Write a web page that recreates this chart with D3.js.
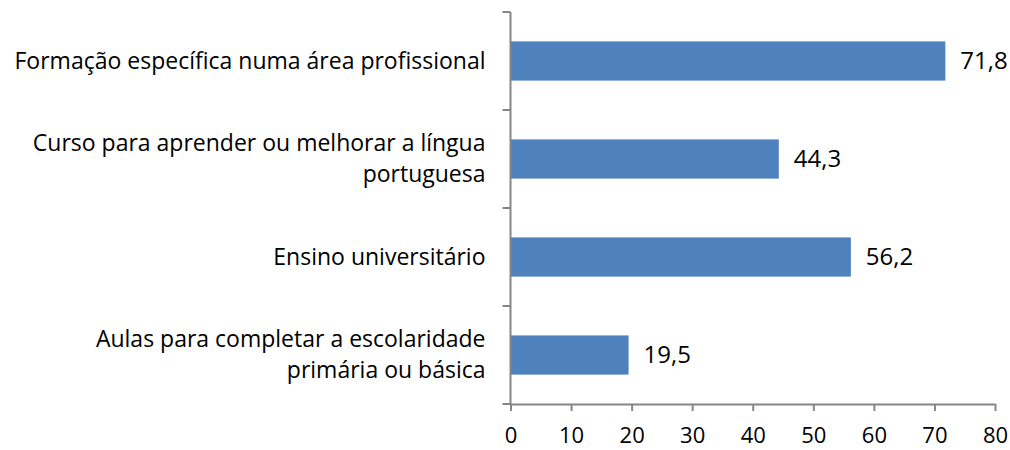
<!DOCTYPE html>
<html>
<head>
<meta charset="utf-8">
<script src="https://cdn.jsdelivr.net/npm/d3@7"></script>
<style>
  html, body { margin: 0; padding: 0; background: #fff; }
  svg { display: block; }
  text { font-family: "Open Sans", "Lato", sans-serif; fill: #000; }
</style>
</head>
<body>
<svg id="chart" width="1010" height="450"></svg>
<script>
// Categories (top to bottom), each split into its drawn lines
const categories = [
  ["Formação específica numa área profissional"],
  ["Curso para aprender ou melhorar a língua", "portuguesa"],
  ["Ensino universitário"],
  ["Aulas para completar a escolaridade", "primária ou básica"]
];
const values = [71.8, 44.3, 56.2, 19.5];
const xTicks = [0, 10, 20, 30, 40, 50, 60, 70, 80];

(function () {
  const svg = d3.select("#chart");
  const plotLeft = 510.5, plotRight = 995, plotTop = 12, plotBottom = 404;
  const axisColor = "#868686";
  const barColor = "#4f81bd";
  const labelSize = 23;
  const valueSize = 24;
  const tickSize = 22;
  const fontFamily = "'Open Sans', Lato, sans-serif";

  const x = d3.scaleLinear().domain([0, 80]).range([plotLeft, plotRight]);
  const y = d3.scaleBand()
    .domain(d3.range(categories.length))
    .range([plotTop, plotBottom])
    .paddingInner(0.6)
    .paddingOuter(0.3);

  // Bars
  svg.append("g").selectAll("rect")
    .data(values)
    .join("rect")
    .attr("x", x(0))
    .attr("y", (d, i) => y(i))
    .attr("width", d => x(d) - x(0))
    .attr("height", y.bandwidth())
    .attr("fill", barColor);

  // Value labels
  svg.append("g").selectAll("text")
    .data(values)
    .join("text")
    .attr("x", d => x(d) + 15)
    .attr("y", (d, i) => y(i) + y.bandwidth() / 2)
    .attr("dy", "0.35em")
    .style("font-size", valueSize + "px")
    .text(d => d.toFixed(1).replace(".", ","));

  // X axis
  const xAxis = svg.append("g")
    .attr("transform", `translate(0,${plotBottom})`)
    .call(d3.axisBottom(x).tickValues(xTicks).tickSize(7).tickSizeOuter(0).tickPadding(16)
      .tickFormat(d => d));
  xAxis.select(".domain").attr("stroke", axisColor).attr("stroke-width", 2);
  xAxis.selectAll(".tick line").attr("stroke", axisColor).attr("stroke-width", 2);
  xAxis.selectAll(".tick text")
    .style("font-size", tickSize + "px")
    .style("font-family", fontFamily)
    .attr("fill", "#000");

  // Y axis line with category boundary ticks
  const yAxisG = svg.append("g");
  yAxisG.append("line")
    .attr("x1", plotLeft).attr("x2", plotLeft)
    .attr("y1", plotTop).attr("y2", plotBottom + 1)
    .attr("stroke", axisColor).attr("stroke-width", 2);
  const boundaries = d3.range(categories.length + 1).map(i => plotTop + i * y.step());
  yAxisG.selectAll("line.tick")
    .data(boundaries)
    .join("line")
    .attr("class", "tick")
    .attr("x1", plotLeft - 8).attr("x2", plotLeft)
    .attr("y1", d => d).attr("y2", d => d)
    .attr("stroke", axisColor).attr("stroke-width", 2);

  // Category labels, right-aligned beside the axis
  const lineHeight = 31;
  const catG = svg.append("g");
  categories.forEach((lines, i) => {
    const cy = y(i) + y.bandwidth() / 2;
    const t = catG.append("text")
      .attr("text-anchor", "end")
      .style("font-size", labelSize + "px");
    lines.forEach((ln, j) => {
      t.append("tspan")
        .attr("x", plotLeft - 25)
        .attr("y", cy + (j - (lines.length - 1) / 2) * lineHeight)
        .attr("dy", "0.33em")
        .text(ln);
    });
  });
})();
</script>
</body>
</html>
